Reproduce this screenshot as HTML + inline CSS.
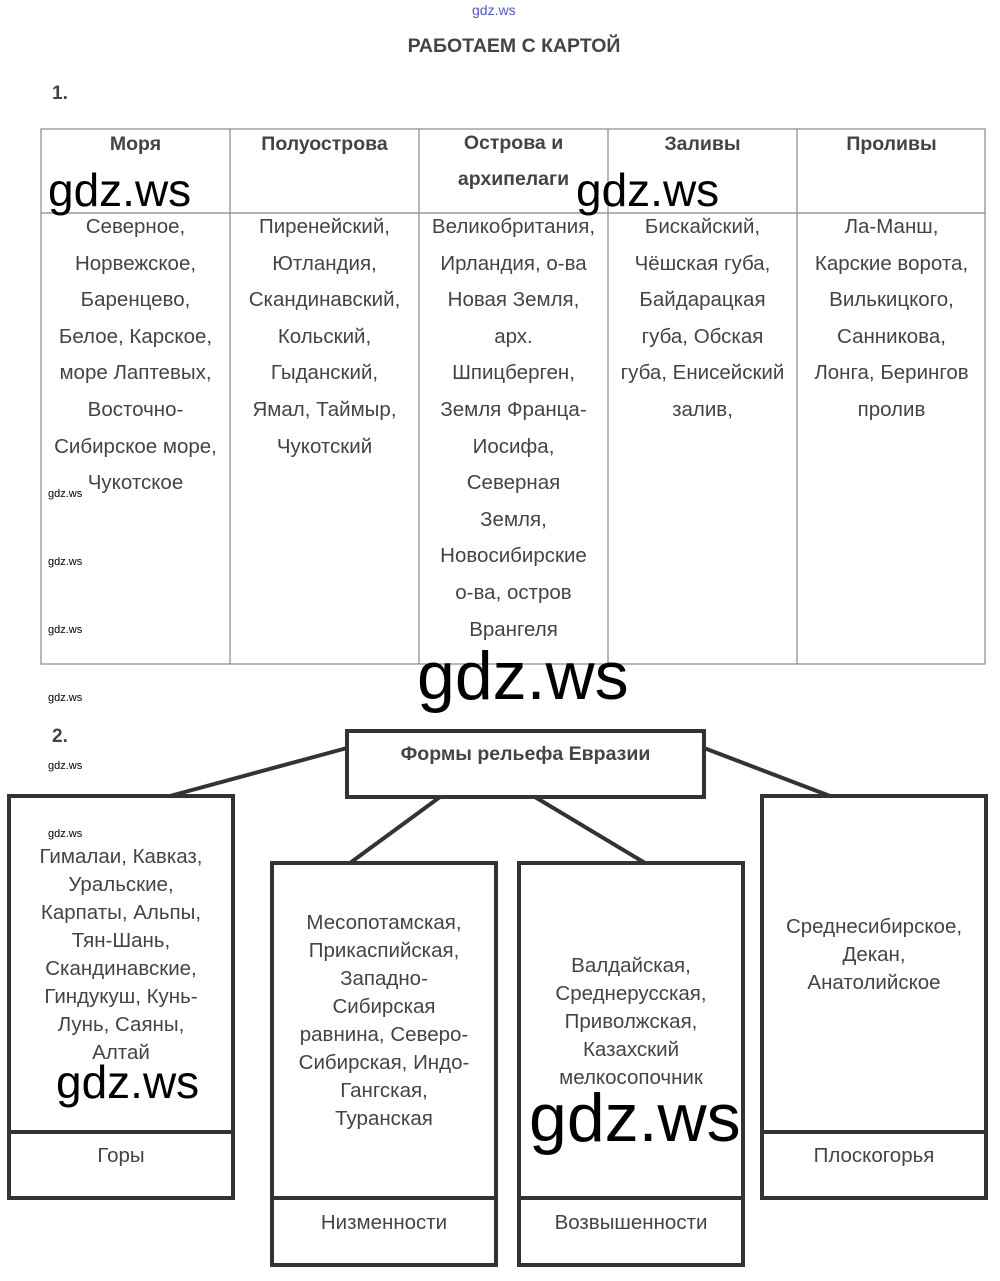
<!DOCTYPE html>
<html><head><meta charset="utf-8"><style>
body{margin:0;width:1000px;height:1281px;background:#fff;position:relative;font-family:"Liberation Sans",sans-serif;color:#444;overflow:hidden}
.a{position:absolute}
.c{text-align:center}
.cell{position:absolute;text-align:center;font-size:20.5px;line-height:36.6px;color:#444;white-space:nowrap}
.hd{position:absolute;text-align:center;font-size:19.5px;font-weight:bold;line-height:32px;color:#444}
.bx{position:absolute;text-align:center;font-size:20.5px;line-height:28px;color:#444;white-space:nowrap}
.wm{position:absolute;font-size:11px;color:#000}
.big{position:absolute;font-size:46px;color:#000;font-family:"Liberation Sans",sans-serif}
</style></head><body>
<div class="a" style="left:472px;top:2px;font-size:14px;color:#55c">gdz.ws</div>
<div class="a c" style="left:0;width:1028px;top:35px;font-size:19.5px;font-weight:bold;color:#444">РАБОТАЕМ С КАРТОЙ</div>
<div class="a" style="left:52px;top:83px;font-size:19px;font-weight:bold">1.</div>
<div class="a" style="left:52px;top:726px;font-size:19px;font-weight:bold">2.</div>
<svg class="a" style="left:0;top:0" width="1000" height="1281">
<g stroke="#888" stroke-width="1.2" fill="none">
<rect x="41" y="129" width="944" height="535"/>
<line x1="41" y1="213" x2="985" y2="213"/>
<line x1="230" y1="129" x2="230" y2="664"/><line x1="419" y1="129" x2="419" y2="664"/>
<line x1="608" y1="129" x2="608" y2="664"/><line x1="797" y1="129" x2="797" y2="664"/>
</g>
<g stroke="#333" stroke-width="4" fill="none">
<rect x="347" y="731" width="357" height="66"/>
<rect x="9" y="796" width="224" height="402"/><line x1="9" y1="1132" x2="233" y2="1132"/>
<rect x="272" y="863" width="224" height="402"/><line x1="272" y1="1198" x2="496" y2="1198"/>
<rect x="519" y="863" width="224" height="402"/><line x1="519" y1="1198" x2="743" y2="1198"/>
<rect x="762" y="796" width="224" height="402"/><line x1="762" y1="1132" x2="986" y2="1132"/>
<line x1="347" y1="748" x2="170" y2="796"/><line x1="440" y1="797" x2="350" y2="863"/>
<line x1="535" y1="797" x2="645" y2="863"/><line x1="704" y1="748" x2="830" y2="796"/>
</g></svg>
<div class="hd" style="left:41px;width:189px;top:128px">Моря</div>
<div class="hd" style="left:230px;width:189px;top:128px">Полуострова</div>
<div class="hd" style="left:419px;width:189px;top:125px;line-height:36px">Острова и<br>архипелаги</div>
<div class="hd" style="left:608px;width:189px;top:128px">Заливы</div>
<div class="hd" style="left:797px;width:189px;top:128px">Проливы</div>
<div class="cell" style="left:41px;width:189px;top:209px">Северное,<br>Норвежское,<br>Баренцево,<br>Белое, Карское,<br>море Лаптевых,<br>Восточно-<br>Сибирское море,<br>Чукотское</div>
<div class="cell" style="left:230px;width:189px;top:209px">Пиренейский,<br>Ютландия,<br>Скандинавский,<br>Кольский,<br>Гыданский,<br>Ямал, Таймыр,<br>Чукотский</div>
<div class="cell" style="left:419px;width:189px;top:209px">Великобритания,<br>Ирландия, о-ва<br>Новая Земля,<br>арх.<br>Шпицберген,<br>Земля Франца-<br>Иосифа,<br>Северная<br>Земля,<br>Новосибирские<br>о-ва, остров<br>Врангеля</div>
<div class="cell" style="left:608px;width:189px;top:209px">Бискайский,<br>Чёшская губа,<br>Байдарацкая<br>губа, Обская<br>губа, Енисейский<br>залив,</div>
<div class="cell" style="left:797px;width:189px;top:209px">Ла-Манш,<br>Карские ворота,<br>Вилькицкого,<br>Санникова,<br>Лонга, Берингов<br>пролив</div>
<div class="a c" style="left:347px;width:357px;top:743px;font-size:19.5px;font-weight:bold">Формы рельефа Евразии</div>
<div class="bx" style="left:9px;width:224px;top:843px">Гималаи, Кавказ,<br>Уральские,<br>Карпаты, Альпы,<br>Тян-Шань,<br>Скандинавские,<br>Гиндукуш, Кунь-<br>Лунь, Саяны,<br>Алтай</div>
<div class="bx" style="left:9px;width:224px;top:1142px">Горы</div>
<div class="bx" style="left:272px;width:224px;top:909px">Месопотамская,<br>Прикаспийская,<br>Западно-<br>Сибирская<br>равнина, Северо-<br>Сибирская, Индо-<br>Гангская,<br>Туранская</div>
<div class="bx" style="left:272px;width:224px;top:1209px">Низменности</div>
<div class="bx" style="left:519px;width:224px;top:952px">Валдайская,<br>Среднерусская,<br>Приволжская,<br>Казахский<br>мелкосопочник</div>
<div class="bx" style="left:519px;width:224px;top:1209px">Возвышенности</div>
<div class="bx" style="left:762px;width:224px;top:913px">Среднесибирское,<br>Декан,<br>Анатолийское</div>
<div class="bx" style="left:762px;width:224px;top:1142px">Плоскогорья</div>
<div class="wm" style="left:48px;top:488px">gdz.ws</div>
<div class="wm" style="left:48px;top:556px">gdz.ws</div>
<div class="wm" style="left:48px;top:624px">gdz.ws</div>
<div class="wm" style="left:48px;top:692px">gdz.ws</div>
<div class="wm" style="left:48px;top:760px">gdz.ws</div>
<div class="wm" style="left:48px;top:828px">gdz.ws</div>
<div class="big" style="left:48px;top:163px">gdz.ws</div>
<div class="big" style="left:576px;top:163px">gdz.ws</div>
<div class="big" style="left:417px;top:637px;font-size:68px">gdz.ws</div>
<div class="big" style="left:56px;top:1055px">gdz.ws</div>
<div class="big" style="left:529px;top:1079px;font-size:68px">gdz.ws</div>
</body></html>
